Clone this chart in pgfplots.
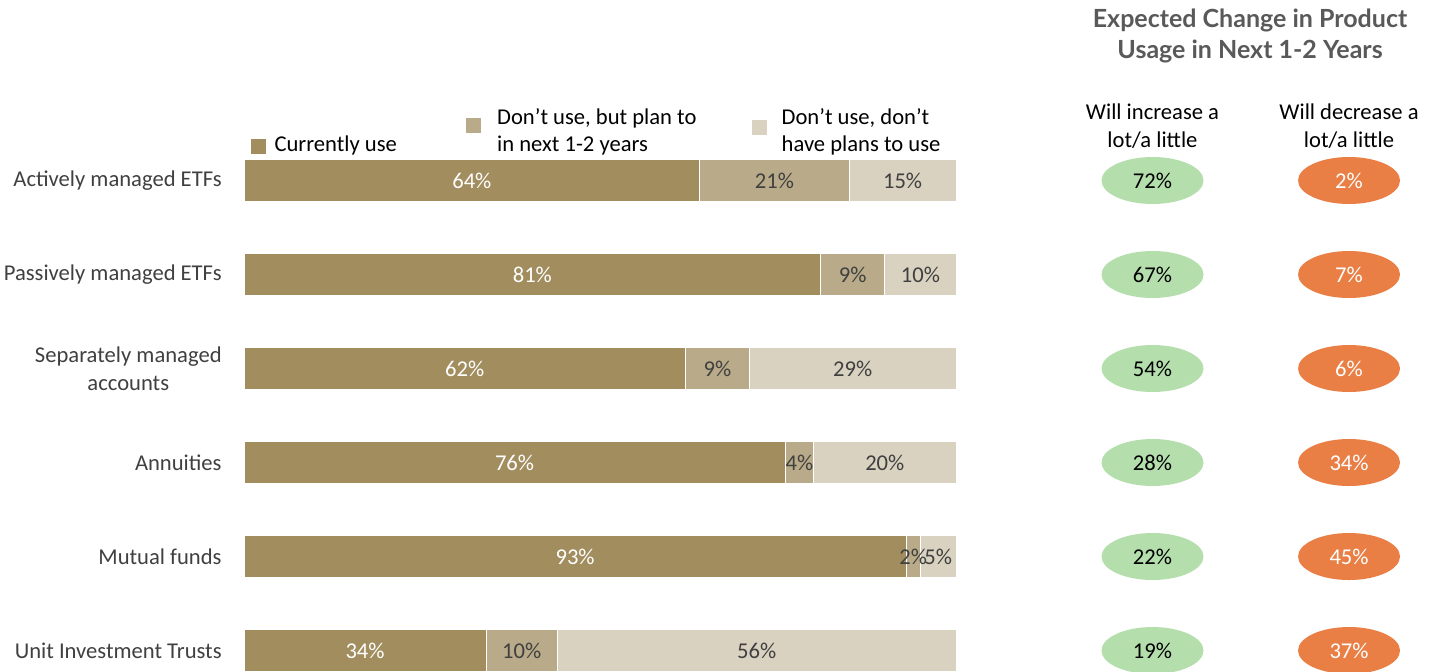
\documentclass[border=0pt]{standalone}
\usepackage{pgfplots}
\pgfplotsset{compat=1.18}
\usepackage{pgfplotstable}
\usepackage{fontspec}
\setmainfont{Carlito}
\newfontfamily\titlefont{Lato}
\definecolor{c1}{HTML}{A28D5F}
\definecolor{c2}{HTML}{B9AB89}
\definecolor{c3}{HTML}{D9D2C1}
\definecolor{incr}{HTML}{B4DEAC}
\definecolor{decr}{HTML}{E97F45}
\definecolor{lbl}{HTML}{404040}
\definecolor{ttl}{HTML}{595959}

\pgfplotstableread{
row use plan noplan
0 64 21 15
1 81 9 10
2 62 9 29
3 76 4 20
4 93 2 5
5 34 10 56
}\bars

\pgfdeclareplotmark{oval}{\pgfpathellipse{\pgfpointorigin}{\pgfqpoint{25.5pt}{0pt}}{\pgfqpoint{0pt}{11.75pt}}\pgfusepathqfill}

\newcommand{\lblfont}{\fontsize{11.3}{13.85}\selectfont}

\begin{document}
\begin{tikzpicture}
\useasboundingbox (0,0) rectangle (719.5pt,335.5pt);
\pgfplotsset{common/.style={scale only axis, width=597.5pt, height=335.5pt,
  at={(122pt,0pt)}, anchor=south west, xmin=0, xmax=167.84,
  ymin=-1.920, ymax=5.218, y dir=reverse},
  /pgf/number format/assume math mode=true}
\begin{axis}[common, xbar stacked, bar width=0.45,
  axis line style={draw=none}, major tick length=0pt,
  xtick=\empty, ytick={0,...,5},
  yticklabels={Actively managed ETFs, Passively managed ETFs, {Separately managed\\accounts}, Annuities, Mutual funds, Unit Investment Trusts},
  yticklabel style={align=center, text=lbl, font=\lblfont, inner sep=0pt, xshift=-11pt},
  clip=true,
  legend style={at={(axis cs:0.98,-0.229)}, anchor=south west, draw=none, fill=none,
    inner sep=0pt, outer sep=0pt, column sep=0pt, row sep=0pt,
    cells={anchor=south west, inner sep=0pt, outer sep=0pt}, font=\lblfont},
  legend columns=3,
  nodes near coords={\pgfmathprintnumber{\pgfplotspointmeta}\%},
  point meta=explicit,
]
\addplot[fill=c1, draw=white, line width=0.3pt,
  every node near coord/.style={anchor=center, text=white, font=\lblfont},
  legend image code/.code={\fill[c1] (0pt,2.95pt) rectangle (7pt,9.95pt);}]
  table[x=use, y=row, meta=use] {\bars};
\addlegendentry{\hspace*{2.5pt}\parbox[b]{93.5pt}{\raggedright Currently use}}
\addplot[fill=c2, draw=white, line width=0.3pt,
  every node near coord/.style={anchor=center, text=lbl, font=\lblfont},
  legend image code/.code={\fill[c2] (0pt,13.45pt) rectangle (7pt,20.45pt);}]
  table[x=plan, y=row, meta=plan] {\bars};
\addlegendentry{\hspace*{6.5pt}\parbox[b]{125.6pt}{\raggedright Don’t use, but plan to\\in next 1-2 years}}
\addplot[fill=c3, draw=white, line width=0.3pt,
  every node near coord/.style={anchor=center, text=lbl, font=\lblfont},
  legend image code/.code={\fill[c3] (0pt,12.1pt) rectangle (7pt,19.1pt);}]
  table[x=noplan, y=row, meta=noplan] {\bars};
\addlegendentry{\hspace*{5.35pt}\parbox[b]{110pt}{\raggedright Don’t use, don’t\\have plans to use}}
\end{axis}
\begin{axis}[common, hide axis, clip=false,
  nodes near coords={\pgfmathprintnumber{\pgfplotspointmeta}\%},
  point meta=explicit]
\addplot[only marks, mark=oval, color=incr,
  every node near coord/.style={anchor=center, text=black, font=\lblfont}]
  coordinates {(127.6,0) [72] (127.6,1) [67] (127.6,2) [54] (127.6,3) [28] (127.6,4) [22] (127.6,5) [19]};
\addplot[only marks, mark=oval, color=decr,
  every node near coord/.style={anchor=center, text=white, font=\lblfont}]
  coordinates {(155.2,0) [2] (155.2,1) [7] (155.2,2) [6] (155.2,3) [34] (155.2,4) [45] (155.2,5) [37]};
\node[align=center, font=\titlefont\bfseries\fontsize{12.5}{15.5}\selectfont, text=ttl]
  at (axis cs:141.3,-1.537) {Expected Change in Product\\Usage in Next 1-2 Years};
\node[align=center, font=\lblfont, text=black] at (axis cs:127.6,-0.575) {Will increase a\\lot/a little};
\node[align=center, font=\lblfont, text=black] at (axis cs:155.2,-0.575) {Will decrease a\\lot/a little};
\end{axis}
\end{tikzpicture}
\end{document}
